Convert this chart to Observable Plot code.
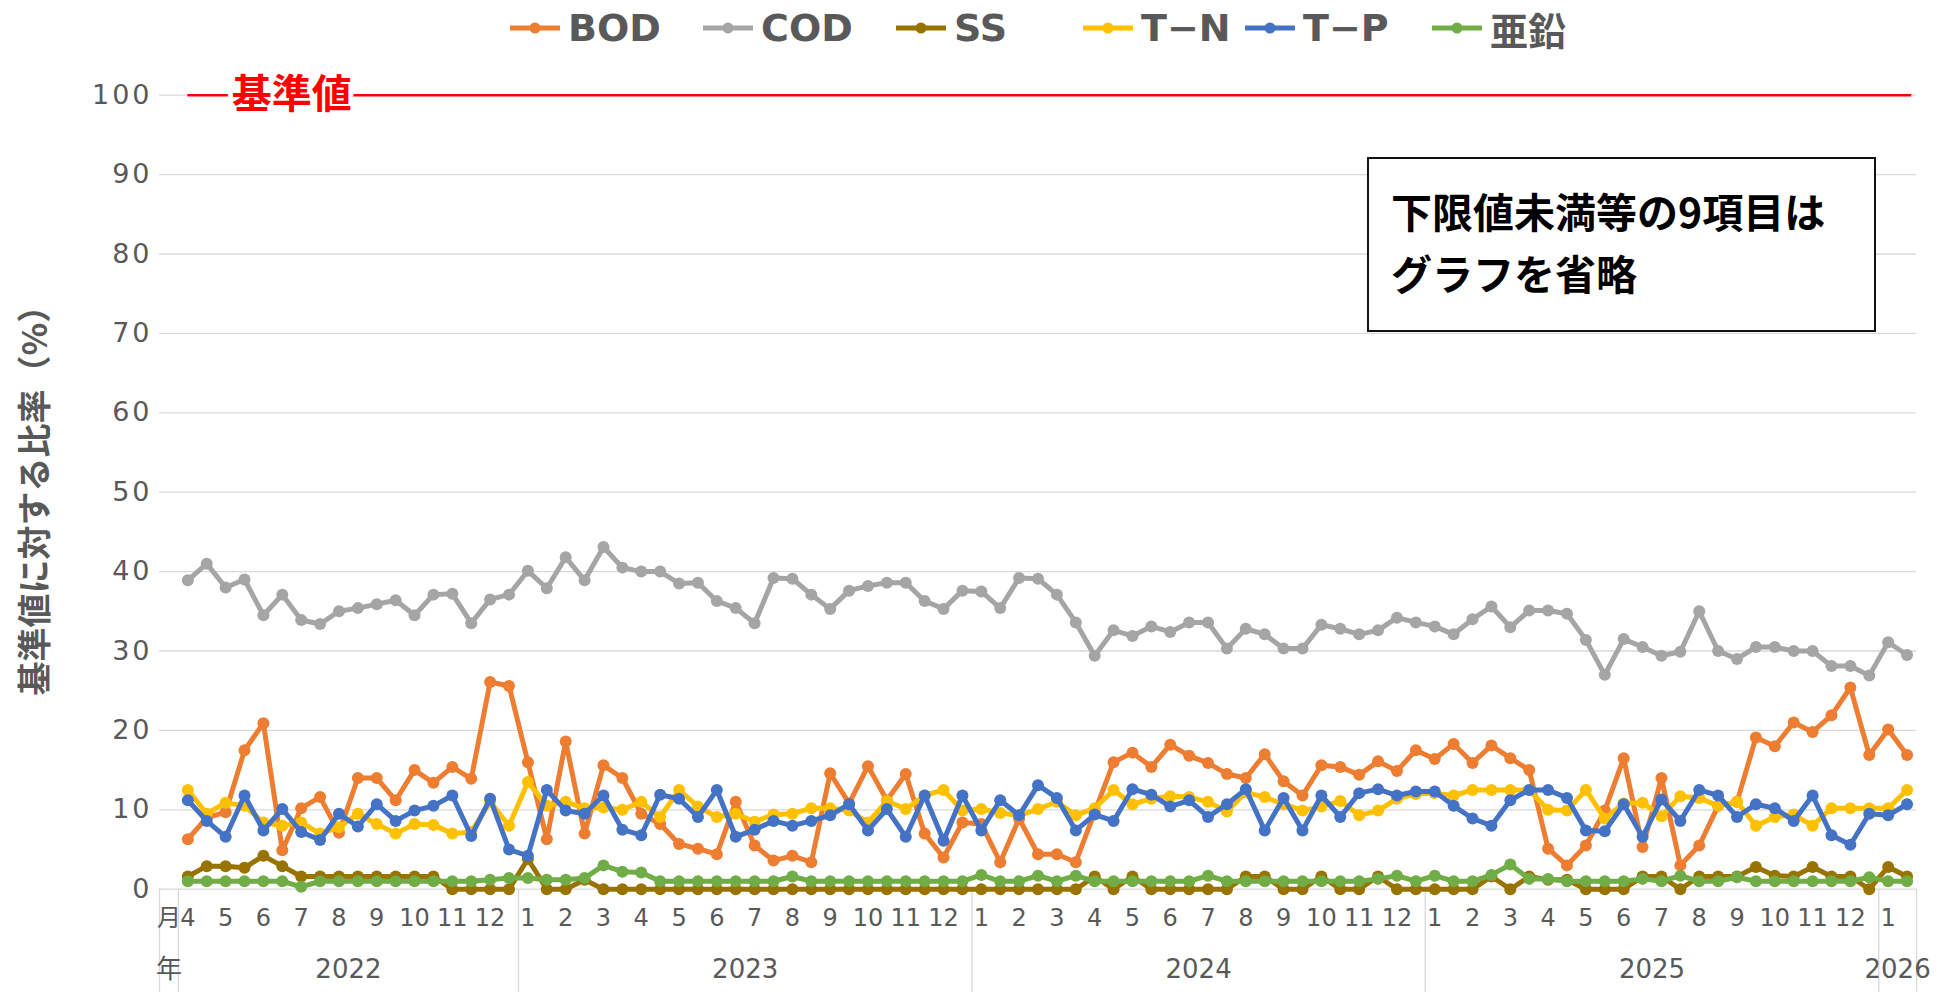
<!DOCTYPE html>
<html>
<head>
<meta charset="utf-8">
<script src="https://cdn.jsdelivr.net/npm/d3@7"></script>
<script src="https://cdn.jsdelivr.net/npm/@observablehq/plot@0.6"></script>
<style>
  body { margin: 0; background: #fff; font-family: "Noto Sans CJK JP", "Noto Sans", sans-serif; }
  #wrap { position: relative; width: 1952px; height: 992px; overflow: hidden; background: #fff; }
  #legend { position: relative; width: 1952px; height: 56px; }
  .item { position: absolute; top: 0; height: 56px; display: flex; align-items: center;
          font-family: "DejaVu Sans", "Noto Sans CJK JP", sans-serif; font-weight: 700; font-size: 38px; color: #595959; white-space: nowrap; }
  .item svg { margin-right: 8px; }
  #note { position: absolute; left: 1367px; top: 157px; width: 509px; height: 175px; box-sizing: border-box;
          border: 2px solid #111; background: #fff; padding: 20px 0 0 22px;
          font-family: "Noto Sans CJK JP", sans-serif; font-weight: 700; font-size: 41px; line-height: 62px; color: #000; }
  #chart svg { display: block; }
  #chart .tick-digits text { letter-spacing: 3px; }
</style>
</head>
<body>
<div id="wrap">
  <div id="legend"></div>
  <div id="chart"></div>
  <div id="note">下限値未満等の9項目は<br>グラフを省略</div>
</div>
<script>
// ---- data (two samples per month) ----
const periods = [
  "2022-04","2022-05","2022-06","2022-07","2022-08","2022-09","2022-10","2022-11","2022-12",
  "2023-01","2023-02","2023-03","2023-04","2023-05","2023-06","2023-07","2023-08","2023-09","2023-10","2023-11","2023-12",
  "2024-01","2024-02","2024-03","2024-04","2024-05","2024-06","2024-07","2024-08","2024-09","2024-10","2024-11","2024-12",
  "2025-01","2025-02","2025-03","2025-04","2025-05","2025-06","2025-07","2025-08","2025-09","2025-10","2025-11","2025-12",
  "2026-01"
];
const samplesPerMonth = 2;

const BOD = [6.3,9.0,9.7,17.5,20.9,4.9,10.2,11.6,7.1,14.0,14.0,11.2,15.0,13.4,15.4,13.9,26.1,25.6,16.0,6.3,
  18.6,7.0,15.6,14.0,9.5,8.2,5.7,5.1,4.4,11.0,5.5,3.6,4.2,3.4,14.6,10.8,15.5,11.2,14.5,7.0,
  4.0,8.4,8.2,3.4,8.9,4.4,4.4,3.4,9.7,16.0,17.2,15.4,18.2,16.8,15.9,14.5,14.0,17.0,13.6,11.8,
  15.6,15.4,14.4,16.1,14.9,17.5,16.4,18.3,15.9,18.1,16.5,15.0,5.1,3.0,5.5,9.9,16.5,5.3,14.0,3.0,
  5.5,10.5,11.0,19.1,18.0,21.0,19.8,21.9,25.4,16.9,20.1,16.9];
const COD = [38.9,41.0,38.0,39.0,34.5,37.1,33.9,33.4,35.0,35.4,35.9,36.4,34.5,37.1,37.2,33.5,36.5,37.1,40.1,37.9,
  41.8,38.9,43.1,40.5,40.0,40.0,38.5,38.6,36.3,35.4,33.5,39.2,39.1,37.1,35.3,37.6,38.2,38.6,38.6,36.3,
  35.3,37.6,37.5,35.4,39.2,39.1,37.1,33.6,29.4,32.6,31.9,33.1,32.4,33.6,33.6,30.3,32.8,32.1,30.3,30.3,
  33.3,32.8,32.1,32.6,34.2,33.6,33.1,32.1,34.0,35.6,33.0,35.1,35.1,34.7,31.4,27.0,31.5,30.5,29.4,29.9,
  35.0,30.0,29.0,30.5,30.5,30.0,30.0,28.1,28.1,26.9,31.1,29.5];
const SS = [1.6,2.9,2.9,2.7,4.2,2.9,1.6,1.6,1.6,1.6,1.6,1.6,1.6,1.6,0,0,
  0,0,3.8,0,0,1.2,0,0,0,0,0,0,0,0,
  0,0,0,0,0,0,0,0,0,0,0,0,0,0,0,0,0,0,
  1.6,0,1.6,0,0,0,0,0,1.6,1.6,0,0,1.6,0,0,
  1.6,0,0,0,0,0,1.6,0,1.6,1.2,1.2,0,0,0,1.6,1.6,
  0,1.6,1.6,1.6,2.8,1.7,1.6,2.8,1.6,1.6,0,2.8,1.6];
const TN = [12.5,9.5,10.9,10.5,8.4,8.0,8.4,7.0,7.8,9.5,8.2,7.0,8.2,8.1,7.0,7.2,11.0,8.0,13.5,10.5,
  11.0,10.2,10.3,10.0,11.0,9.1,12.5,10.4,9.1,9.5,8.5,9.4,9.5,10.2,10.2,9.9,8.4,11.1,10.1,11.8,
  12.5,9.9,10.1,9.6,9.3,10.1,11.0,9.3,10.2,12.5,10.7,11.4,11.7,11.6,11.0,9.8,12.2,11.6,10.7,9.9,
  10.4,11.1,9.3,9.9,11.4,12.0,12.1,11.8,12.5,12.5,12.5,12.5,10.0,9.9,12.5,8.9,10.8,10.9,9.2,11.7,
  11.5,10.5,11.0,8.0,9.1,9.4,8.0,10.2,10.2,10.2,10.2,12.5];
const TP = [11.2,8.6,6.6,11.8,7.4,10.1,7.2,6.2,9.5,7.9,10.7,8.6,9.9,10.5,11.8,6.7,11.4,5.0,4.2,12.5,
  9.9,9.5,11.8,7.5,6.8,11.9,11.4,9.1,12.5,6.6,7.5,8.6,8.0,8.6,9.3,10.7,7.4,10.1,6.6,11.8,
  6.1,11.8,7.4,11.2,9.3,13.1,11.5,7.4,9.4,8.6,12.6,11.9,10.4,11.2,9.1,10.7,12.6,7.4,11.5,7.4,
  11.8,9.1,12.1,12.6,11.8,12.3,12.3,10.5,8.9,8.0,11.2,12.5,12.5,11.5,7.4,7.3,10.7,6.6,11.3,8.6,
  12.5,11.8,9.1,10.7,10.2,8.6,11.8,6.8,5.6,9.5,9.3,10.7];
const ZN = [1.0,1.0,1.0,1.0,1.0,1.0,0.3,1.0,1.0,1.0,1.0,1.0,1.0,1.0,1.0,1.0,
  1.2,1.4,1.4,1.2,1.2,1.4,3.0,2.2,2.1,1.0,1.0,1.0,1.0,1.0,1.0,1.0,
  1.6,1.0,1.0,1.0,1.0,1.0,1.0,1.0,1.0,1.0,1.8,1.0,1.0,1.7,1.0,1.7,
  1.0,1.0,1.0,1.0,1.0,1.0,1.7,1.0,1.0,1.0,1.0,1.0,1.0,1.0,1.0,1.3,
  1.7,1.0,1.7,1.0,1.0,1.8,3.1,1.3,1.3,1.0,1.0,1.0,1.0,1.3,1.0,1.7,
  1.0,1.0,1.5,1.0,1.0,1.0,1.0,1.0,1.0,1.5,1.0,1.0];

const seriesNames = ["BOD","COD","SS","T−N","T−P","亜鉛"];
const seriesColors = ["#ED7D31","#A5A5A5","#997300","#FFC000","#4472C4","#70AD47"];
const seriesValues = [BOD, COD, SS, TN, TP, ZN];
const yTicks = [0,10,20,30,40,50,60,70,80,90,100];
const limitValue = 100;
const limitText = "基準値";
const yLabel = "基準値に対する比率（%）";
const monthHeader = "月";
const yearHeader = "年";

// ---- derived tables ----
const N = BOD.length;
const pts = d3.range(N).map(i => {
  const p = periods[Math.floor(i / samplesPerMonth)];
  return { i, year: +p.slice(0, 4), month: +p.slice(5) };
});
const rows = seriesValues.flatMap((vals, s) => vals.map((v, i) => ({ series: seriesNames[s], i, v })));
const monthTicks = [-1, ...pts.filter(p => p.i % samplesPerMonth === 0).map(p => p.i)];
const yearGroups = d3.groups(pts, p => p.year);
const yearCenters = yearGroups.map(([y, ps]) => [d3.mean(ps, p => p.i), y]);
const yearLabel = new Map(yearCenters);
const yearTicks = [-1, ...yearCenters.map(d => d[0])];
const boundaries = [-1.5, -0.5, ...yearGroups.map(([y, ps]) => d3.max(ps, p => p.i) + 0.5)];

// ---- legend ----
const legendLeft = [510, 703, 896, 1083, 1245, 1432];
const legend = document.getElementById("legend");
seriesNames.forEach((n, s) => {
  const d = document.createElement("div");
  d.className = "item";
  d.style.left = legendLeft[s] + "px";
  d.innerHTML = `<svg width="50" height="16"><line x1="0" y1="8" x2="50" y2="8" stroke="${seriesColors[s]}" stroke-width="5" stroke-linecap="round"/><circle cx="25" cy="8" r="5.5" fill="${seriesColors[s]}"/></svg><span>${n}</span>`;
  legend.appendChild(d);
});

// ---- chart ----
const gray = "#595959";
const gridColor = "#d9d9d9";
const digitFont = "'DejaVu Sans', 'Noto Sans CJK JP', sans-serif";
const chart = Plot.plot({
  width: 1952,
  height: 936,
  marginLeft: 159,
  marginRight: 36,
  marginTop: 38.7,
  marginBottom: 103.3,
  style: { fontFamily: "'Noto Sans CJK JP', 'Noto Sans', sans-serif", background: "white", overflow: "visible" },
  x: { domain: [-1.5, N - 0.5], axis: null },
  y: { domain: [0, 100], axis: null },
  marks: [
    Plot.gridY(yTicks, { stroke: gridColor, strokeOpacity: 1, strokeWidth: 1.3 }),
    Plot.axisY(yTicks, { anchor: "left", tickSize: 0, tickPadding: 7, fontSize: 27, fontFamily: digitFont, fill: gray, label: null, className: "tick-digits" }),
    Plot.text([yLabel], { frameAnchor: "left", textAnchor: "middle", rotate: -90, dx: -123, fontSize: 34, fontWeight: "bold", fill: gray }),
    // category table
    Plot.axisX(boundaries, { anchor: "bottom", tickSize: 104, tickFormat: () => "", stroke: gridColor, strokeWidth: 1.3, label: null }),
    Plot.axisX(monthTicks, { anchor: "bottom", tickSize: 0, tickPadding: 20, fontSize: 24, fontFamily: digitFont, fill: gray, label: null,
      tickFormat: d => d < 0 ? monthHeader : String(pts[d].month) }),
    Plot.axisX(yearTicks, { anchor: "bottom", tickSize: 0, tickPadding: 70, fontSize: 26, fontFamily: digitFont, fill: gray, label: null,
      tickFormat: d => d < 0 ? yearHeader : String(yearLabel.get(d)) }),
    // reference line
    Plot.ruleY([limitValue], { x1: 0, x2: N - 0.75, stroke: "#FF0000", strokeWidth: 2.5 }),
    Plot.text([limitText], { x: 5.5, y: limitValue, fill: "#FF0000", fontSize: 40, fontWeight: "bold",
      stroke: "white", strokeWidth: 10, paintOrder: "stroke" }),
    // series
    ...seriesNames.flatMap((n, s) => {
      const data = rows.filter(r => r.series === n);
      return [
        Plot.line(data, { x: "i", y: "v", stroke: seriesColors[s], strokeWidth: 5, strokeLinejoin: "round", strokeLinecap: "round" }),
        Plot.dot(data, { x: "i", y: "v", fill: seriesColors[s], r: 6 })
      ];
    })
  ]
});
document.getElementById("chart").appendChild(chart);
</script>
</body>
</html>
